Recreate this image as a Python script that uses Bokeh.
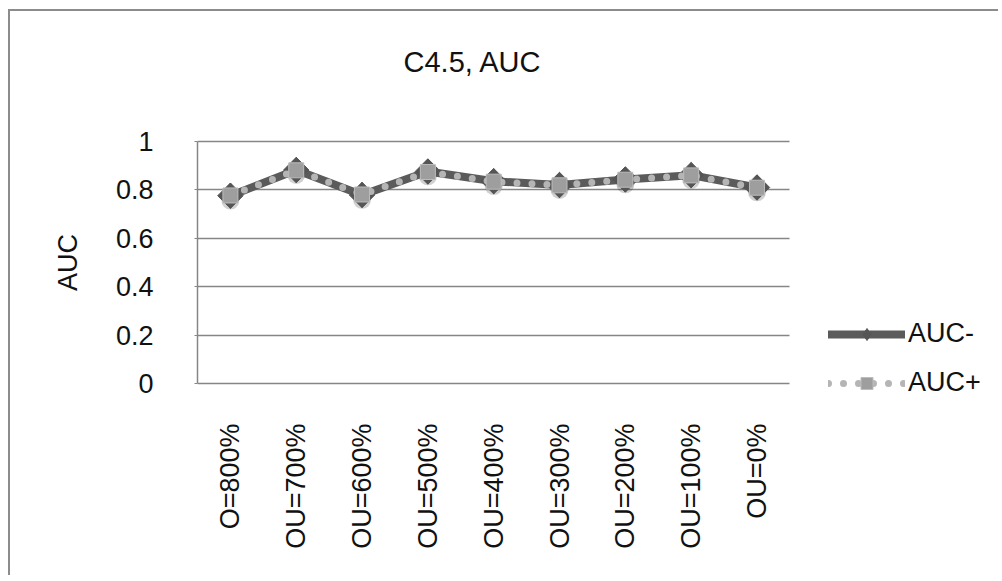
import numpy as np
from bokeh.plotting import figure
from bokeh.models import (ColumnDataSource, Range1d, FixedTicker,
                          Legend, LegendItem)
from bokeh.transform import dodge
from bokeh.embed import file_html
from bokeh.resources import INLINE

# --- data -----------------------------------------------------------------
categories = ["O=800%", "OU=700%", "OU=600%", "OU=500%", "OU=400%",
              "OU=300%", "OU=200%", "OU=100%", "OU=0%"]
auc_minus = [0.776, 0.882, 0.779, 0.876, 0.836, 0.820, 0.843, 0.861, 0.810]
auc_plus = [0.777, 0.881, 0.781, 0.874, 0.834, 0.819, 0.842, 0.860, 0.809]
y_ticks = [0, 0.2, 0.4, 0.6, 0.8, 1.0]
y_tick_labels = ["0", "0.2", "0.4", "0.6", "0.8", "1"]
title_text = "C4.5, AUC"

FONT = "Liberation Sans"
GRID = "#868686"

# each category occupies one unit slot; marks sit at the slot centres
n = len(categories)
slot_centres = [i + 0.5 for i in range(n)]
src = ColumnDataSource(dict(x=slot_centres, minus=auc_minus, plus=auc_plus))

# the frame reaches out to the right edge so the legend sits inside it;
# axis, grid and category slots cover only part of it
p = figure(width=990, height=566, x_range=Range1d(0, 12.2),
           y_range=Range1d(-0.1405, 1.1405), output_backend="svg",
           toolbar_location=None,
           min_border_left=187, min_border_right=0,
           min_border_top=96, min_border_bottom=160,
           margin=(9, 0, 0, 8),
           styles={"border-top": "2px solid #8c8c8c",
                   "border-left": "2px solid #8c8c8c"})
p.outline_line_color = None
p.background_fill_color = "white"
p.border_fill_color = "white"

# chart title
p.title.text = title_text
p.title.align = "left"
p.title.offset = 206
p.title.standoff = 60
p.title.text_font = FONT
p.title.text_font_size = "29px"
p.title.text_font_style = "normal"
p.title.text_color = "#111111"

# grid: horizontal lines only, spanning the category slots
p.xgrid.grid_line_color = None
p.ygrid.ticker = FixedTicker(ticks=y_ticks)
p.ygrid.grid_line_color = GRID
p.ygrid.grid_line_width = 1.5
p.ygrid.cross_bounds = (0, n)

# y axis
p.yaxis.ticker = FixedTicker(ticks=y_ticks)
p.yaxis.bounds = (0, 1)
p.yaxis.major_label_overrides = {t: s for t, s in zip(y_ticks, y_tick_labels)}
p.yaxis.axis_line_color = GRID
p.yaxis.axis_line_width = 1.5
p.yaxis.major_tick_line_color = GRID
p.yaxis.major_tick_in = 0
p.yaxis.major_tick_out = 3
p.yaxis.minor_tick_line_color = None
p.yaxis.major_label_standoff = 41
p.yaxis.major_label_text_font = FONT
p.yaxis.major_label_text_font_size = "27px"
p.yaxis.major_label_text_color = "#111111"
p.yaxis.axis_label = "AUC"
p.yaxis.axis_label_text_font = FONT
p.yaxis.axis_label_text_font_size = "27px"
p.yaxis.axis_label_text_font_style = "normal"
p.yaxis.axis_label_text_color = "#111111"
p.yaxis.axis_label_standoff = 30

# x axis: category names at the slot centres
p.xaxis.ticker = FixedTicker(ticks=slot_centres)
p.xaxis.major_label_overrides = {c: s for c, s in zip(slot_centres, categories)}
p.xaxis.axis_line_color = None
p.xaxis.major_tick_line_color = None
p.xaxis.minor_tick_line_color = None
p.xaxis.major_label_orientation = np.pi / 2
p.xaxis.major_label_standoff = 0
p.xaxis.major_label_text_font = FONT
p.xaxis.major_label_text_font_size = "27px"
p.xaxis.major_label_text_color = "#111111"

# soft drop shadow below the markers
p.scatter("x", dodge("minus", -0.02), source=src, marker="circle", size=18,
          fill_color="black", fill_alpha=0.18, line_color=None)

# series AUC-: thick dark line with diamond markers
r_minus_line = p.line("x", "minus", source=src, line_color="#5b5b5b",
                      line_width=8, line_join="round", line_cap="round")
r_minus_key = p.scatter("x", "minus", source=src, marker="diamond", size=25,
                        fill_color="#555555", line_color="#555555")
p.scatter("x", "minus", source=src, marker="square", angle=np.pi / 4,
          size=18, fill_color="#555555", line_color="#555555")

# series AUC+: round-dot line with square markers
r_plus_line = p.line("x", "plus", source=src, line_color="#b5b5b5",
                     line_width=7, line_dash="0 15", line_cap="round")
r_plus_pts = p.scatter("x", "plus", source=src, marker="square", size=15,
                       fill_color="#9e9e9e", line_color="#bdbdbd", line_width=1)

legend = Legend(items=[
    LegendItem(label="AUC-", renderers=[r_minus_line, r_minus_key]),
    LegendItem(label="AUC+", renderers=[r_plus_line, r_plus_pts]),
], location=(631, 19), orientation="vertical")
legend.glyph_width = 77
legend.glyph_height = 30
legend.label_height = 30
legend.label_standoff = 3
legend.spacing = 18
legend.padding = 0
legend.margin = 0
legend.border_line_color = None
legend.background_fill_alpha = 0
legend.label_text_font = FONT
legend.label_text_font_size = "27px"
legend.label_text_color = "#111111"
p.add_layout(legend, "center")

open("out.html", "w").write(file_html(p, INLINE))
